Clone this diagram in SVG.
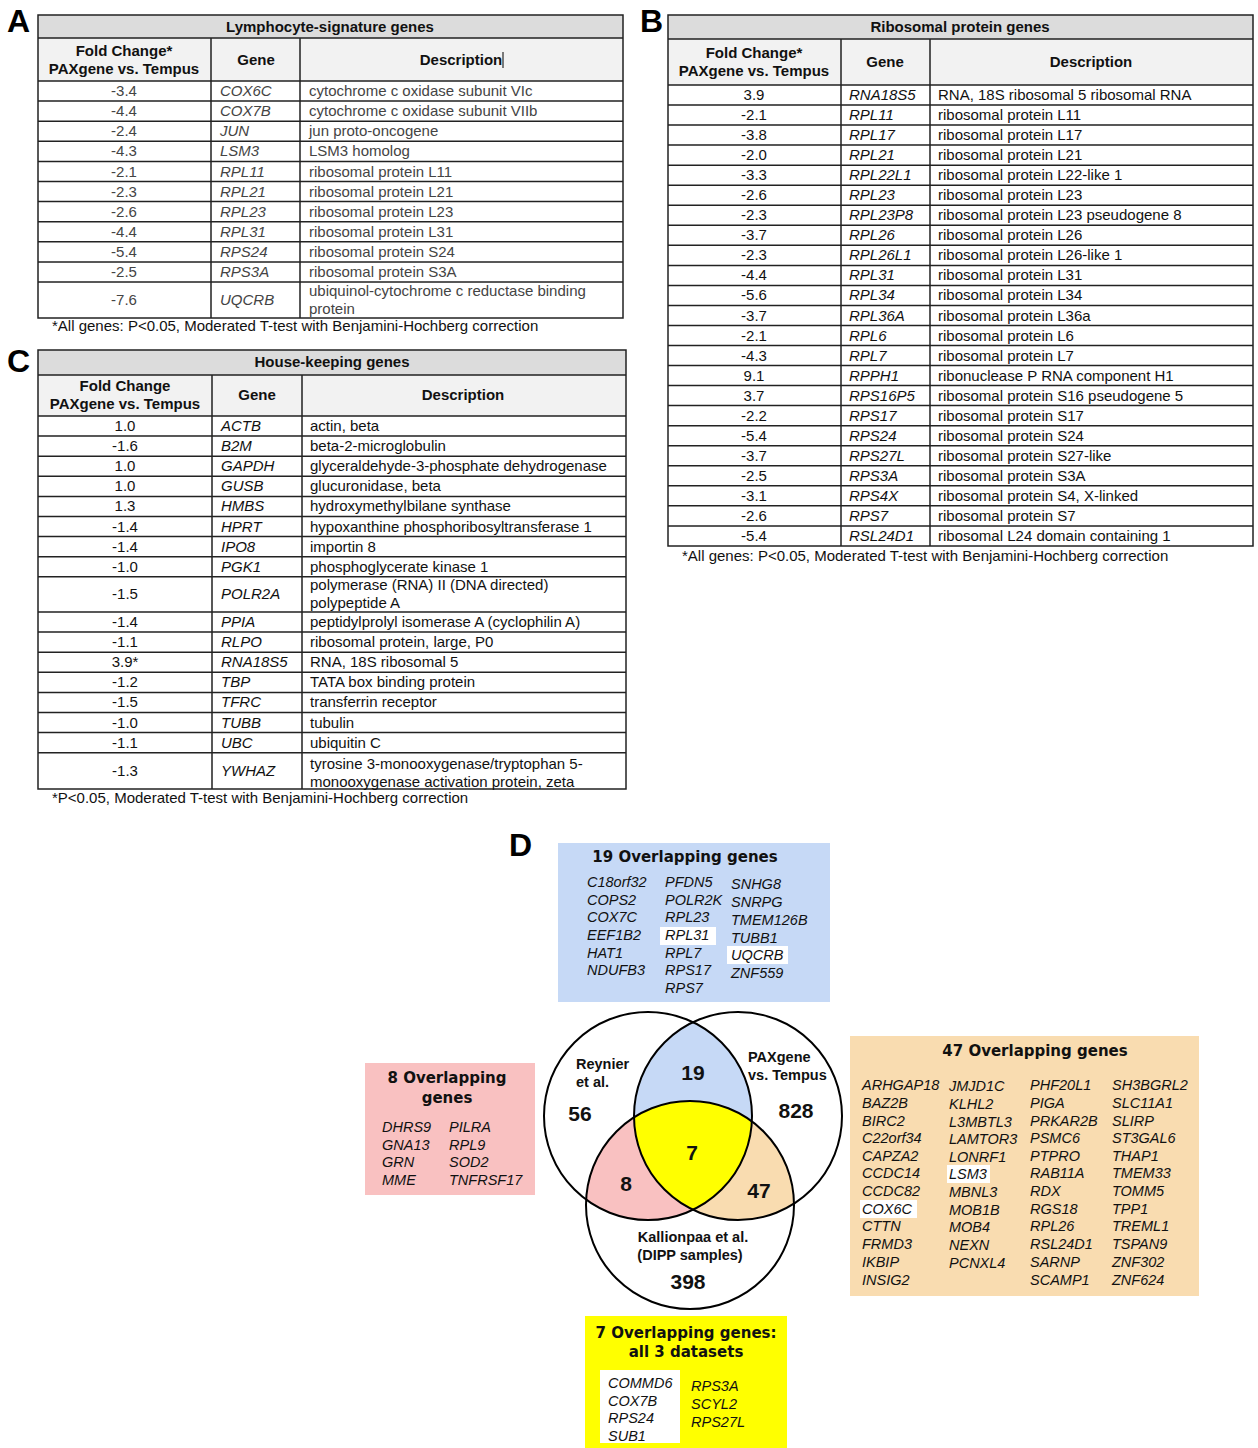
<svg xmlns="http://www.w3.org/2000/svg" width="1258" height="1448" viewBox="0 0 1258 1448">
<style>
text{font-family:"Liberation Sans",Arial,sans-serif}
.lab{font-size:32px;font-weight:bold;fill:#000}
.ti{font-size:15px;font-weight:bold;text-anchor:middle;fill:#111}
.hd{font-size:15px;font-weight:bold;text-anchor:middle;fill:#111}
.v{font-size:15px;text-anchor:middle;fill:#111}
.g{font-size:15px;font-style:italic;fill:#111}
.d{font-size:15px;fill:#111}
.ga .v,.ga .g,.ga .d{fill:#444}
.fn{font-size:15px;fill:#111}
.grid{stroke:#222;stroke-width:1.5;fill:none}
.titlebg{fill:#dcdcdc}
.hdbg{fill:#f2f2f2}
.bt{font-family:"DejaVu Sans",Verdana,sans-serif;font-size:15px;font-weight:bold;text-anchor:middle;fill:#111}
.gl{font-size:14.5px;font-style:italic;fill:#111}
.vl{font-size:14.5px;font-weight:bold;fill:#111}
.num{font-size:21px;font-weight:bold;fill:#111;text-anchor:middle}
.circ{fill:none;stroke:#000;stroke-width:2}
</style>
<defs>
<clipPath id="cL"><circle cx="648" cy="1116" r="104"/></clipPath>
<clipPath id="cR"><circle cx="738" cy="1116" r="104"/></clipPath>
</defs>

<!-- Panel A -->
<g id="tableA" class="ga">
<text class="lab" x="7" y="32">A</text>
<rect class="titlebg" x="38" y="15" width="585" height="23"/>
<rect class="hdbg" x="38" y="38" width="585" height="43"/>
<rect class="grid" x="38" y="15" width="585" height="303"/>
<path class="grid" d="M38 38H623M38 81H623M38 101.1H623M38 121.2H623M38 141.3H623M38 161.4H623M38 181.5H623M38 201.6H623M38 221.7H623M38 241.8H623M38 261.9H623M38 282H623M211 38V318M300 38V318"/>
<line x1="503" y1="52" x2="503" y2="68" stroke="#000" stroke-width="1"/>
<text class="ti" x="330" y="32">Lymphocyte-signature genes</text>
<text class="hd" x="124" y="56">Fold Change*</text>
<text class="hd" x="124" y="74">PAXgene vs. Tempus</text>
<text class="hd" x="256" y="65">Gene</text>
<text class="hd" x="461" y="65">Description</text>
<text class="v" x="124" y="96">-3.4</text><text class="g" x="220" y="96">COX6C</text><text class="d" x="309" y="96">cytochrome c oxidase subunit VIc</text>
<text class="v" x="124" y="116">-4.4</text><text class="g" x="220" y="116">COX7B</text><text class="d" x="309" y="116">cytochrome c oxidase subunit VIIb</text>
<text class="v" x="124" y="136">-2.4</text><text class="g" x="220" y="136">JUN</text><text class="d" x="309" y="136">jun proto-oncogene</text>
<text class="v" x="124" y="156">-4.3</text><text class="g" x="220" y="156">LSM3</text><text class="d" x="309" y="156">LSM3 homolog</text>
<text class="v" x="124" y="176.5">-2.1</text><text class="g" x="220" y="176.5">RPL11</text><text class="d" x="309" y="176.5">ribosomal protein L11</text>
<text class="v" x="124" y="196.5">-2.3</text><text class="g" x="220" y="196.5">RPL21</text><text class="d" x="309" y="196.5">ribosomal protein L21</text>
<text class="v" x="124" y="216.5">-2.6</text><text class="g" x="220" y="216.5">RPL23</text><text class="d" x="309" y="216.5">ribosomal protein L23</text>
<text class="v" x="124" y="236.5">-4.4</text><text class="g" x="220" y="236.5">RPL31</text><text class="d" x="309" y="236.5">ribosomal protein L31</text>
<text class="v" x="124" y="257">-5.4</text><text class="g" x="220" y="257">RPS24</text><text class="d" x="309" y="257">ribosomal protein S24</text>
<text class="v" x="124" y="277">-2.5</text><text class="g" x="220" y="277">RPS3A</text><text class="d" x="309" y="277">ribosomal protein S3A</text>
<text class="v" x="124" y="305">-7.6</text><text class="g" x="220" y="305">UQCRB</text><text class="d" x="309" y="296">ubiquinol-cytochrome c reductase binding</text><text class="d" x="309" y="314">protein</text>
<text class="fn" x="52" y="331">*All genes: P&lt;0.05, Moderated T-test with Benjamini-Hochberg correction</text>
</g>

<!-- Panel B -->
<g id="tableB">
<text class="lab" x="640" y="32">B</text>
<rect class="titlebg" x="668" y="15" width="585" height="24"/>
<rect class="hdbg" x="668" y="39" width="585" height="46"/>
<rect class="grid" x="668" y="15" width="585" height="531"/>
<path class="grid" d="M668 39H1253M668 85H1253M668 105H1253M668 125.1H1253M668 145.1H1253M668 165.2H1253M668 185.2H1253M668 205.2H1253M668 225.3H1253M668 245.3H1253M668 265.4H1253M668 285.4H1253M668 305.4H1253M668 325.5H1253M668 345.5H1253M668 365.6H1253M668 385.6H1253M668 405.6H1253M668 425.7H1253M668 445.7H1253M668 465.8H1253M668 485.8H1253M668 505.8H1253M668 525.9H1253M841 39V546M930 39V546"/>
<text class="ti" x="960" y="32">Ribosomal protein genes</text>
<text class="hd" x="754" y="58">Fold Change*</text>
<text class="hd" x="754" y="76">PAXgene vs. Tempus</text>
<text class="hd" x="885" y="67">Gene</text>
<text class="hd" x="1091" y="67">Description</text>
<text class="v" x="754" y="100">3.9</text><text class="g" x="849" y="100">RNA18S5</text><text class="d" x="938" y="100">RNA, 18S ribosomal 5 ribosomal RNA</text>
<text class="v" x="754" y="120">-2.1</text><text class="g" x="849" y="120">RPL11</text><text class="d" x="938" y="120">ribosomal protein L11</text>
<text class="v" x="754" y="140.1">-3.8</text><text class="g" x="849" y="140.1">RPL17</text><text class="d" x="938" y="140.1">ribosomal protein L17</text>
<text class="v" x="754" y="160.1">-2.0</text><text class="g" x="849" y="160.1">RPL21</text><text class="d" x="938" y="160.1">ribosomal protein L21</text>
<text class="v" x="754" y="180.2">-3.3</text><text class="g" x="849" y="180.2">RPL22L1</text><text class="d" x="938" y="180.2">ribosomal protein L22-like 1</text>
<text class="v" x="754" y="200.2">-2.6</text><text class="g" x="849" y="200.2">RPL23</text><text class="d" x="938" y="200.2">ribosomal protein L23</text>
<text class="v" x="754" y="220.3">-2.3</text><text class="g" x="849" y="220.3">RPL23P8</text><text class="d" x="938" y="220.3">ribosomal protein L23 pseudogene 8</text>
<text class="v" x="754" y="240.3">-3.7</text><text class="g" x="849" y="240.3">RPL26</text><text class="d" x="938" y="240.3">ribosomal protein L26</text>
<text class="v" x="754" y="260.3">-2.3</text><text class="g" x="849" y="260.3">RPL26L1</text><text class="d" x="938" y="260.3">ribosomal protein L26-like 1</text>
<text class="v" x="754" y="280.4">-4.4</text><text class="g" x="849" y="280.4">RPL31</text><text class="d" x="938" y="280.4">ribosomal protein L31</text>
<text class="v" x="754" y="300.4">-5.6</text><text class="g" x="849" y="300.4">RPL34</text><text class="d" x="938" y="300.4">ribosomal protein L34</text>
<text class="v" x="754" y="320.5">-3.7</text><text class="g" x="849" y="320.5">RPL36A</text><text class="d" x="938" y="320.5">ribosomal protein L36a</text>
<text class="v" x="754" y="340.5">-2.1</text><text class="g" x="849" y="340.5">RPL6</text><text class="d" x="938" y="340.5">ribosomal protein L6</text>
<text class="v" x="754" y="360.5">-4.3</text><text class="g" x="849" y="360.5">RPL7</text><text class="d" x="938" y="360.5">ribosomal protein L7</text>
<text class="v" x="754" y="380.6">9.1</text><text class="g" x="849" y="380.6">RPPH1</text><text class="d" x="938" y="380.6">ribonuclease P RNA component H1</text>
<text class="v" x="754" y="400.6">3.7</text><text class="g" x="849" y="400.6">RPS16P5</text><text class="d" x="938" y="400.6">ribosomal protein S16 pseudogene 5</text>
<text class="v" x="754" y="420.7">-2.2</text><text class="g" x="849" y="420.7">RPS17</text><text class="d" x="938" y="420.7">ribosomal protein S17</text>
<text class="v" x="754" y="440.7">-5.4</text><text class="g" x="849" y="440.7">RPS24</text><text class="d" x="938" y="440.7">ribosomal protein S24</text>
<text class="v" x="754" y="460.7">-3.7</text><text class="g" x="849" y="460.7">RPS27L</text><text class="d" x="938" y="460.7">ribosomal protein S27-like</text>
<text class="v" x="754" y="480.8">-2.5</text><text class="g" x="849" y="480.8">RPS3A</text><text class="d" x="938" y="480.8">ribosomal protein S3A</text>
<text class="v" x="754" y="500.8">-3.1</text><text class="g" x="849" y="500.8">RPS4X</text><text class="d" x="938" y="500.8">ribosomal protein S4, X-linked</text>
<text class="v" x="754" y="520.9">-2.6</text><text class="g" x="849" y="520.9">RPS7</text><text class="d" x="938" y="520.9">ribosomal protein S7</text>
<text class="v" x="754" y="540.9">-5.4</text><text class="g" x="849" y="540.9">RSL24D1</text><text class="d" x="938" y="540.9">ribosomal L24 domain containing 1</text>
<text class="fn" x="682" y="561">*All genes: P&lt;0.05, Moderated T-test with Benjamini-Hochberg correction</text>
</g>

<!-- Panel C -->
<g id="tableC">
<text class="lab" x="7" y="372">C</text>
<rect class="titlebg" x="38" y="350" width="588" height="25"/>
<rect class="hdbg" x="38" y="375" width="588" height="41"/>
<rect class="grid" x="38" y="350" width="588" height="439"/>
<path class="grid" d="M38 375H626M38 416H626M38 436.1H626M38 456.2H626M38 476.3H626M38 496.4H626M38 516.5H626M38 536.6H626M38 556.7H626M38 576.8H626M38 612H626M38 632.1H626M38 652.2H626M38 672.3H626M38 692.4H626M38 712.5H626M38 732.6H626M38 752.7H626M212 375V789M302 375V789"/>
<text class="ti" x="332" y="367">House-keeping genes</text>
<text class="hd" x="125" y="391">Fold Change</text>
<text class="hd" x="125" y="409">PAXgene vs. Tempus</text>
<text class="hd" x="257" y="400">Gene</text>
<text class="hd" x="463" y="400">Description</text>
<text class="v" x="125" y="431">1.0</text><text class="g" x="221" y="431">ACTB</text><text class="d" x="310" y="431">actin, beta</text>
<text class="v" x="125" y="451.1">-1.6</text><text class="g" x="221" y="451.1">B2M</text><text class="d" x="310" y="451.1">beta-2-microglobulin</text>
<text class="v" x="125" y="471.2">1.0</text><text class="g" x="221" y="471.2">GAPDH</text><text class="d" x="310" y="471.2">glyceraldehyde-3-phosphate dehydrogenase</text>
<text class="v" x="125" y="491.3">1.0</text><text class="g" x="221" y="491.3">GUSB</text><text class="d" x="310" y="491.3">glucuronidase, beta</text>
<text class="v" x="125" y="511.4">1.3</text><text class="g" x="221" y="511.4">HMBS</text><text class="d" x="310" y="511.4">hydroxymethylbilane synthase</text>
<text class="v" x="125" y="531.5">-1.4</text><text class="g" x="221" y="531.5">HPRT</text><text class="d" x="310" y="531.5">hypoxanthine phosphoribosyltransferase 1</text>
<text class="v" x="125" y="551.6">-1.4</text><text class="g" x="221" y="551.6">IPO8</text><text class="d" x="310" y="551.6">importin 8</text>
<text class="v" x="125" y="571.7">-1.0</text><text class="g" x="221" y="571.7">PGK1</text><text class="d" x="310" y="571.7">phosphoglycerate kinase 1</text>
<text class="v" x="125" y="599">-1.5</text><text class="g" x="221" y="599">POLR2A</text><text class="d" x="310" y="590">polymerase (RNA) II (DNA directed)</text><text class="d" x="310" y="608">polypeptide A</text>
<text class="v" x="125" y="627">-1.4</text><text class="g" x="221" y="627">PPIA</text><text class="d" x="310" y="627">peptidylprolyl isomerase A (cyclophilin A)</text>
<text class="v" x="125" y="647.1">-1.1</text><text class="g" x="221" y="647.1">RLPO</text><text class="d" x="310" y="647.1">ribosomal protein, large, P0</text>
<text class="v" x="125" y="667.2">3.9*</text><text class="g" x="221" y="667.2">RNA18S5</text><text class="d" x="310" y="667.2">RNA, 18S ribosomal 5</text>
<text class="v" x="125" y="687.3">-1.2</text><text class="g" x="221" y="687.3">TBP</text><text class="d" x="310" y="687.3">TATA box binding protein</text>
<text class="v" x="125" y="707.4">-1.5</text><text class="g" x="221" y="707.4">TFRC</text><text class="d" x="310" y="707.4">transferrin receptor</text>
<text class="v" x="125" y="727.5">-1.0</text><text class="g" x="221" y="727.5">TUBB</text><text class="d" x="310" y="727.5">tubulin</text>
<text class="v" x="125" y="747.6">-1.1</text><text class="g" x="221" y="747.6">UBC</text><text class="d" x="310" y="747.6">ubiquitin C</text>
<text class="v" x="125" y="776">-1.3</text><text class="g" x="221" y="776">YWHAZ</text><text class="d" x="310" y="769">tyrosine 3-monooxygenase/tryptophan 5-</text><text class="d" x="310" y="787">monooxygenase activation protein, zeta</text>
<text class="fn" x="52" y="803">*P&lt;0.05, Moderated T-test with Benjamini-Hochberg correction</text>
</g>

<!-- Panel D -->
<text class="lab" x="509" y="856">D</text>

<g id="venn">
<g clip-path="url(#cL)"><circle cx="738" cy="1116" r="104" fill="#c6d9f6"/></g>
<g clip-path="url(#cL)"><circle cx="690" cy="1205" r="104" fill="#f9c1c1"/></g>
<g clip-path="url(#cR)"><circle cx="690" cy="1205" r="104" fill="#f9dcb0"/></g>
<g clip-path="url(#cL)"><g clip-path="url(#cR)"><circle cx="690" cy="1205" r="104" fill="#ffff00"/></g></g>
<circle class="circ" cx="648" cy="1116" r="104"/>
<circle class="circ" cx="738" cy="1116" r="104"/>
<circle class="circ" cx="690" cy="1205" r="104"/>
<text class="vl" x="576" y="1069">Reynier</text>
<text class="vl" x="576" y="1087">et al.</text>
<text class="vl" x="748" y="1062">PAXgene</text>
<text class="vl" x="748" y="1080">vs. Tempus</text>
<text class="vl" x="693" y="1242" text-anchor="middle">Kallionpaa et al.</text>
<text class="vl" x="690" y="1260" text-anchor="middle">(DIPP samples)</text>
<text class="num" x="580" y="1121">56</text>
<text class="num" x="693" y="1080">19</text>
<text class="num" x="796" y="1118">828</text>
<text class="num" x="692" y="1160">7</text>
<text class="num" x="626" y="1191">8</text>
<text class="num" x="759" y="1198">47</text>
<text class="num" x="688" y="1289">398</text>
</g>

<g id="box19">
<rect x="558" y="843" width="272" height="159" fill="#c6d9f6"/>
<rect x="660" y="927" width="56" height="18" fill="#fff"/>
<rect x="727" y="946" width="61" height="18" fill="#fff"/>
<text class="bt" x="685" y="862">19 Overlapping genes</text>
<text class="gl" x="587" y="887">C18orf32</text>
<text class="gl" x="587" y="905">COPS2</text>
<text class="gl" x="587" y="922">COX7C</text>
<text class="gl" x="587" y="940">EEF1B2</text>
<text class="gl" x="587" y="958">HAT1</text>
<text class="gl" x="587" y="975">NDUFB3</text>
<text class="gl" x="665" y="887">PFDN5</text>
<text class="gl" x="665" y="905">POLR2K</text>
<text class="gl" x="665" y="922">RPL23</text>
<text class="gl" x="665" y="940">RPL31</text>
<text class="gl" x="665" y="958">RPL7</text>
<text class="gl" x="665" y="975">RPS17</text>
<text class="gl" x="665" y="993">RPS7</text>
<text class="gl" x="731" y="889">SNHG8</text>
<text class="gl" x="731" y="907">SNRPG</text>
<text class="gl" x="731" y="925">TMEM126B</text>
<text class="gl" x="731" y="943">TUBB1</text>
<text class="gl" x="731" y="960">UQCRB</text>
<text class="gl" x="731" y="978">ZNF559</text>
</g>

<g id="box8">
<rect x="365" y="1063" width="170" height="132" fill="#f9c1c1"/>
<text class="bt" x="447" y="1083">8 Overlapping</text>
<text class="bt" x="447" y="1103">genes</text>
<text class="gl" x="382" y="1132">DHRS9</text>
<text class="gl" x="382" y="1150">GNA13</text>
<text class="gl" x="382" y="1167">GRN</text>
<text class="gl" x="382" y="1185">MME</text>
<text class="gl" x="449" y="1132">PILRA</text>
<text class="gl" x="449" y="1150">RPL9</text>
<text class="gl" x="449" y="1167">SOD2</text>
<text class="gl" x="449" y="1185">TNFRSF17</text>
</g>

<g id="box47">
<rect x="850" y="1036" width="349" height="260" fill="#f9dcb0"/>
<rect x="860" y="1200" width="57" height="18" fill="#fff"/>
<rect x="947" y="1165" width="43" height="18" fill="#fff"/>
<text class="bt" x="1035" y="1056">47 Overlapping genes</text>
<text class="gl" x="862" y="1090">ARHGAP18</text>
<text class="gl" x="862" y="1108">BAZ2B</text>
<text class="gl" x="862" y="1126">BIRC2</text>
<text class="gl" x="862" y="1143">C22orf34</text>
<text class="gl" x="862" y="1161">CAPZA2</text>
<text class="gl" x="862" y="1178">CCDC14</text>
<text class="gl" x="862" y="1196">CCDC82</text>
<text class="gl" x="862" y="1214">COX6C</text>
<text class="gl" x="862" y="1231">CTTN</text>
<text class="gl" x="862" y="1249">FRMD3</text>
<text class="gl" x="862" y="1267">IKBIP</text>
<text class="gl" x="862" y="1285">INSIG2</text>
<text class="gl" x="949" y="1091">JMJD1C</text>
<text class="gl" x="949" y="1109">KLHL2</text>
<text class="gl" x="949" y="1127">L3MBTL3</text>
<text class="gl" x="949" y="1144">LAMTOR3</text>
<text class="gl" x="949" y="1162">LONRF1</text>
<text class="gl" x="949" y="1179">LSM3</text>
<text class="gl" x="949" y="1197">MBNL3</text>
<text class="gl" x="949" y="1215">MOB1B</text>
<text class="gl" x="949" y="1232">MOB4</text>
<text class="gl" x="949" y="1250">NEXN</text>
<text class="gl" x="949" y="1268">PCNXL4</text>
<text class="gl" x="1030" y="1090">PHF20L1</text>
<text class="gl" x="1030" y="1108">PIGA</text>
<text class="gl" x="1030" y="1126">PRKAR2B</text>
<text class="gl" x="1030" y="1143">PSMC6</text>
<text class="gl" x="1030" y="1161">PTPRO</text>
<text class="gl" x="1030" y="1178">RAB11A</text>
<text class="gl" x="1030" y="1196">RDX</text>
<text class="gl" x="1030" y="1214">RGS18</text>
<text class="gl" x="1030" y="1231">RPL26</text>
<text class="gl" x="1030" y="1249">RSL24D1</text>
<text class="gl" x="1030" y="1267">SARNP</text>
<text class="gl" x="1030" y="1285">SCAMP1</text>
<text class="gl" x="1112" y="1090">SH3BGRL2</text>
<text class="gl" x="1112" y="1108">SLC11A1</text>
<text class="gl" x="1112" y="1126">SLIRP</text>
<text class="gl" x="1112" y="1143">ST3GAL6</text>
<text class="gl" x="1112" y="1161">THAP1</text>
<text class="gl" x="1112" y="1178">TMEM33</text>
<text class="gl" x="1112" y="1196">TOMM5</text>
<text class="gl" x="1112" y="1214">TPP1</text>
<text class="gl" x="1112" y="1231">TREML1</text>
<text class="gl" x="1112" y="1249">TSPAN9</text>
<text class="gl" x="1112" y="1267">ZNF302</text>
<text class="gl" x="1112" y="1285">ZNF624</text>
</g>

<g id="box7">
<rect x="585" y="1316" width="202" height="132" fill="#ffff00"/>
<rect x="600" y="1370" width="80" height="73" fill="#fff"/>
<text class="bt" x="686" y="1338">7 Overlapping genes:</text>
<text class="bt" x="686" y="1357">all 3 datasets</text>
<text class="gl" x="608" y="1388">COMMD6</text>
<text class="gl" x="608" y="1406">COX7B</text>
<text class="gl" x="608" y="1423">RPS24</text>
<text class="gl" x="608" y="1441">SUB1</text>
<text class="gl" x="691" y="1391">RPS3A</text>
<text class="gl" x="691" y="1409">SCYL2</text>
<text class="gl" x="691" y="1427">RPS27L</text>
</g>
</svg>
